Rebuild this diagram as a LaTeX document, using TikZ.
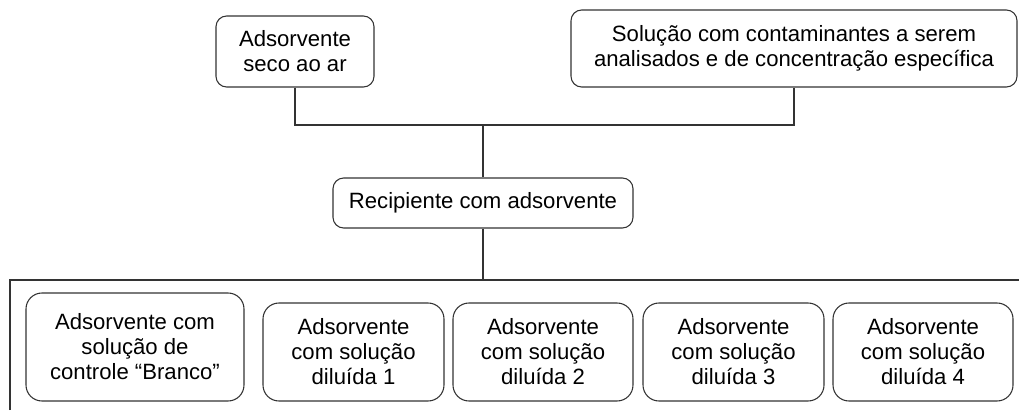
\documentclass[tikz,border=0pt]{standalone}
\usepackage{fontspec}
\setmainfont{Liberation Sans}
\begin{document}
\begin{tikzpicture}[x=0.75pt,y=-0.75pt,
  box/.style={draw=black!80, line width=0.8pt, rounded corners=8pt, align=center,
    font=\fontsize{16.6pt}{18.8pt}\selectfont, inner sep=0pt},
  bigbox/.style={box, rounded corners=12pt},
  conn/.style={draw=black!80, line width=0.8pt}]
\useasboundingbox (0,0) rectangle (1019,410);
\node[box, minimum width=158*0.75pt, minimum height=71*0.75pt] (A) at (295,51.5) {Adsorvente\\seco ao ar};
\node[box, minimum width=446*0.75pt, minimum height=77*0.75pt] (B) at (794,48.5) {Solução com contaminantes a serem\\analisados e de concentração específica};
\node[box, minimum width=300*0.75pt, minimum height=50*0.75pt] (C) at (483,203) {Recipiente com adsorvente};
\node[bigbox, minimum width=218*0.75pt, minimum height=108*0.75pt] (D0) at (135,347) {Adsorvente com\\solução de\\controle “Branco”};
\node[bigbox, minimum width=181*0.75pt, minimum height=98*0.75pt] (D1) at (353.5,352) {Adsorvente\\com solução\\diluída 1};
\node[bigbox, minimum width=180*0.75pt, minimum height=98*0.75pt] (D2) at (543,352) {Adsorvente\\com solução\\diluída 2};
\node[bigbox, minimum width=181*0.75pt, minimum height=98*0.75pt] (D3) at (733.5,352) {Adsorvente\\com solução\\diluída 3};
\node[bigbox, minimum width=180*0.75pt, minimum height=98*0.75pt] (D4) at (923,352) {Adsorvente\\com solução\\diluída 4};
\coordinate (J1) at (483,125);
\coordinate (J2) at (483,280);
\coordinate (L) at (10,280);
\coordinate (LB) at (10,410);
\coordinate (R) at (1019,280);
\draw[conn] (A.south) |- (J1) -| (B.south);
\draw[conn] (J1) -- (C.north);
\draw[conn] (C.south) -- (J2);
\draw[conn] (LB) -- (L) -- (R);
\end{tikzpicture}
\end{document}
